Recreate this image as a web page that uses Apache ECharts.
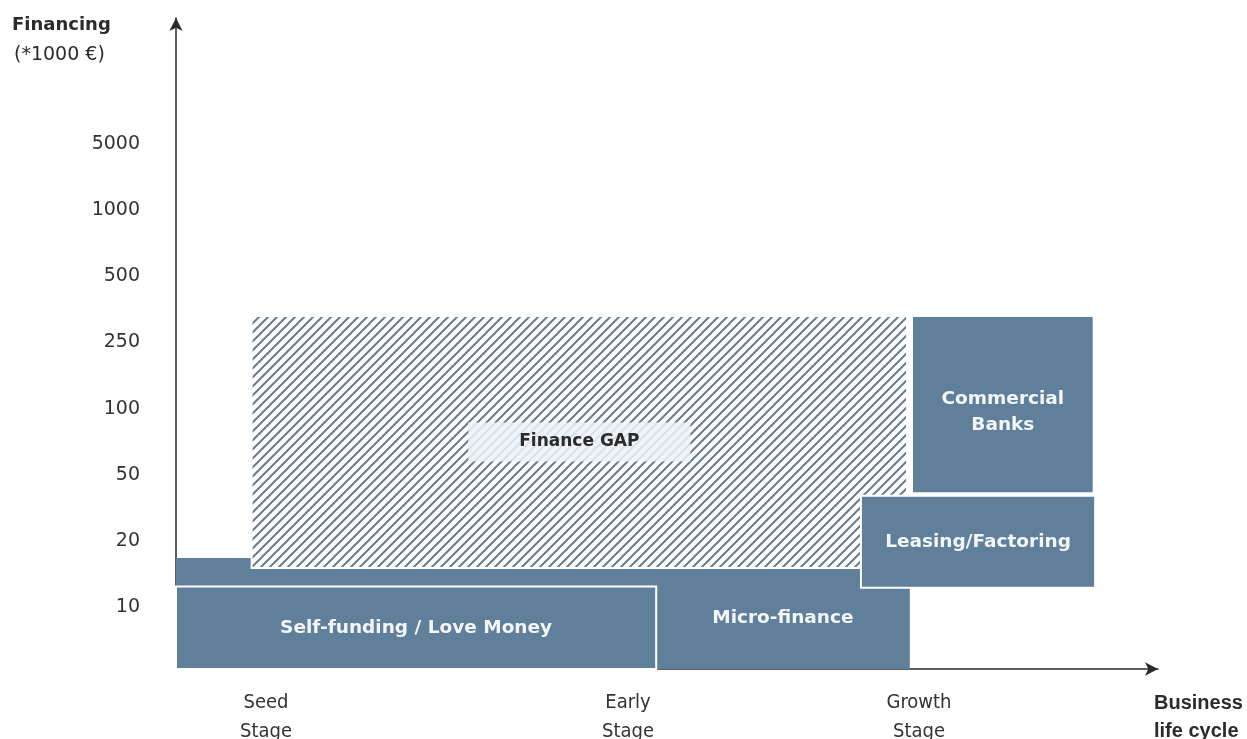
<!DOCTYPE html>
<html>
<head>
<meta charset="utf-8">
<title>Financing across the business life cycle</title>
<script src="https://cdn.jsdelivr.net/npm/echarts@6/dist/echarts.min.js"></script>
<style>
  html, body { margin: 0; padding: 0; background: #ffffff; }
  #chart { width: 1247px; height: 739px; }
</style>
</head>
<body>
<div id="chart"></div>
<script>
// Financing levels (*1000 €) shown on the vertical axis, one per level step
const yTickLabels = ['10', '20', '50', '100', '250', '500', '1000', '5000'];
const yTickLevels = [1, 2, 3, 4, 5, 6, 7, 8];

// Business life cycle stages on the horizontal axis
const stageLabels = ['Seed\nStage', 'Early\nStage', 'Growth\nStage'];
const stageValues = [9.16, 46.03, 75.66];

// Funding sources: horizontal span (life cycle units) and vertical span (level units)
const blockNames = ['', 'Micro-finance', 'Finance GAP', 'Self-funding / Love Money', 'Leasing/Factoring', 'Commercial\nBanks'];
const blockX0 = [0, 48.9, 7.7, 0, 69.75, 74.95];
const blockX1 = [74.7, 74.7, 74.45, 48.9, 93.6, 93.45];
const blockY0 = [0, 0, 1.53, 0, 1.23, 2.66];
const blockY1 = [1.68, 1.53, 5.34, 1.25, 2.62, 5.34];

const BLUE = '#5f7f9a';
const INK = '#2b2b2b';

// Diagonal hatch tile used for the finance gap
function makeHatch() {
  const s = 9;
  const c = document.createElement('canvas');
  c.width = s; c.height = s;
  const ctx = c.getContext('2d');
  ctx.fillStyle = '#ffffff';
  ctx.fillRect(0, 0, s, s);
  ctx.strokeStyle = '#667d91';
  ctx.lineWidth = 2.0;
  ctx.beginPath();
  ctx.moveTo(-1, s + 1); ctx.lineTo(s + 1, -1);
  ctx.moveTo(-s / 2 - 1, s / 2 + 1); ctx.lineTo(s / 2 + 1, -s / 2 - 1);
  ctx.moveTo(s / 2 - 1, s * 1.5 + 1); ctx.lineTo(s * 1.5 + 1, s / 2 - 1);
  ctx.stroke();
  return c;
}
const hatchPattern = { image: makeHatch(), repeat: 'repeat' };

const blockData = blockNames.map((n, i) => [blockX0[i], blockX1[i], blockY0[i], blockY1[i], i]);

function renderBlock(params, api) {
  const i = api.value(4);
  const name = blockNames[i];
  const p0 = api.coord([api.value(0), api.value(2)]);
  const p1 = api.coord([api.value(1), api.value(3)]);
  const x = p0[0], y = p1[1];
  const w = p1[0] - p0[0], h = p0[1] - p1[1];
  const isGap = name === 'Finance GAP';
  const framed = i >= 2;
  const children = [{
    type: 'rect',
    shape: { x: x, y: y, width: w, height: h },
    style: {
      fill: isGap ? hatchPattern : BLUE,
      stroke: framed ? '#ffffff' : null,
      lineWidth: framed ? 2 : 0
    }
  }];
  if (name) {
    const dy = name.indexOf('\n') >= 0 ? 8 : 0;
    children.push({
      type: 'text',
      x: x + w / 2,
      y: y + h / 2 + dy,
      style: isGap ? {
        text: name,
        fill: INK,
        font: '700 17px "DejaVu Sans", sans-serif',
        align: 'center',
        verticalAlign: 'middle',
        backgroundColor: 'rgba(236,242,248,0.86)',
        padding: [11, 51, 11, 51]
      } : {
        text: name,
        fill: '#f3f6f9',
        font: '700 18.5px "DejaVu Sans", sans-serif',
        lineHeight: 26,
        align: 'center',
        verticalAlign: 'middle'
      }
    });
  }
  return { type: 'group', children: children };
}

function labelFor(values, labels) {
  return function (v) {
    for (let k = 0; k < values.length; k++) {
      if (Math.abs(values[k] - v) < 1e-6) return labels[k];
    }
    return '';
  };
}

const yLabelText = labelFor(yTickLevels, yTickLabels);

const chart = echarts.init(document.getElementById('chart'), null, { renderer: 'canvas' });

chart.setOption({
  backgroundColor: '#ffffff',
  animation: false,
  grid: {
    left: 176, right: 89, top: 18, bottom: 70,
    containLabel: false,
    outerBoundsMode: 'none'
  },
  xAxis: {
    type: 'value',
    min: 0,
    max: 100,
    splitLine: { show: false },
    axisTick: { show: false },
    axisLine: {
      show: true,
      symbol: ['none', 'arrow'],
      symbolSize: [10, 13],
      lineStyle: { color: INK, width: 1.5 }
    },
    axisLabel: {
      show: true,
      customValues: stageValues,
      formatter: labelFor(stageValues, stageLabels),
      margin: 19,
      color: '#333333',
      fontFamily: '"DejaVu Sans Condensed", sans-serif',
      fontSize: 20,
      lineHeight: 29,
      verticalAlign: 'top'
    }
  },
  yAxis: {
    type: 'value',
    min: 0,
    max: 9.85,
    interval: 1,
    splitLine: { show: false },
    axisTick: { show: false },
    axisLine: {
      show: true,
      onZero: false,
      symbol: ['none', 'arrow'],
      symbolSize: [10, 13],
      lineStyle: { color: INK, width: 1.5 }
    },
    axisLabel: {
      show: true,
      showMaxLabel: false,
      formatter: function (v) {
        const t = yLabelText(v);
        return t ? '{lv|' + t + '}' : '';
      },
      margin: 36,
      rich: {
        lv: {
          padding: [8, 0, 0, 0],
          color: '#333333',
          fontFamily: '"DejaVu Sans", sans-serif',
          fontSize: 19
        }
      }
    }
  },
  graphic: [
    {
      type: 'text',
      left: 12, top: 16,
      style: { text: 'Financing', fill: INK, font: '700 18px "DejaVu Sans", sans-serif' }
    },
    {
      type: 'text',
      left: 14, top: 46,
      style: { text: '(*1000 €)', fill: INK, font: '400 19px "DejaVu Sans", sans-serif' }
    },
    {
      type: 'text',
      left: 1154, top: 689,
      style: {
        text: 'Business\nlife cycle',
        fill: INK,
        font: '700 20px "Liberation Sans", sans-serif',
        lineHeight: 28
      }
    }
  ],
  series: [{
    type: 'custom',
    renderItem: renderBlock,
    encode: { x: [0, 1], y: [2, 3] },
    data: blockData,
    silent: true
  }]
});
</script>
</body>
</html>
